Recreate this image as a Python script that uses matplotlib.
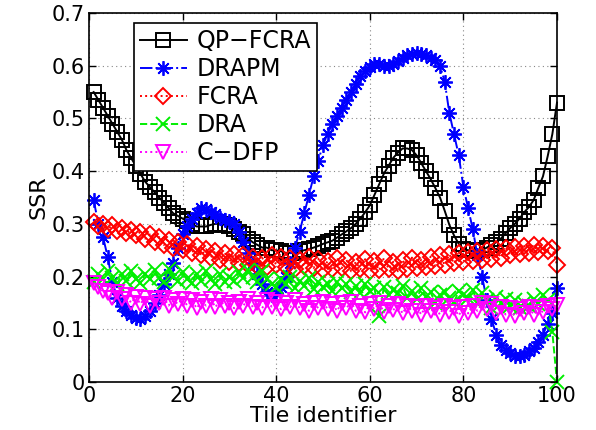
import matplotlib
matplotlib.use("Agg")
import matplotlib.pyplot as plt
import numpy as np

plt.rcParams['font.family'] = ['DejaVu Sans']

tile = list(range(1, 101))

qp_fcra = [0.550, 0.535, 0.520, 0.505, 0.490, 0.475, 0.460, 0.440, 0.425, 0.410,
           0.395, 0.380, 0.370, 0.360, 0.350, 0.340, 0.330, 0.320, 0.315, 0.310,
           0.305, 0.300, 0.295, 0.295, 0.295, 0.298, 0.300, 0.300, 0.298, 0.295,
           0.290, 0.285, 0.280, 0.272, 0.265, 0.260, 0.255, 0.255, 0.250, 0.250,
           0.248, 0.245, 0.245, 0.245, 0.248, 0.250, 0.252, 0.255, 0.258, 0.262,
           0.265, 0.268, 0.274, 0.280, 0.286, 0.292, 0.300, 0.310, 0.322, 0.335,
           0.355, 0.375, 0.395, 0.410, 0.425, 0.435, 0.443, 0.443, 0.440, 0.430,
           0.415, 0.400, 0.385, 0.368, 0.350, 0.325, 0.298, 0.278, 0.262, 0.252,
           0.250, 0.248, 0.248, 0.250, 0.255, 0.260, 0.265, 0.272, 0.282, 0.292,
           0.300, 0.310, 0.322, 0.332, 0.345, 0.368, 0.390, 0.428, 0.470, 0.530]

drapm = [0.345, 0.300, 0.275, 0.237, 0.190, 0.160, 0.145, 0.135, 0.128, 0.122,
         0.120, 0.125, 0.135, 0.150, 0.165, 0.185, 0.205, 0.225, 0.255, 0.280,
         0.295, 0.310, 0.320, 0.330, 0.328, 0.322, 0.318, 0.312, 0.308, 0.305,
         0.300, 0.285, 0.265, 0.245, 0.225, 0.205, 0.185, 0.170, 0.165, 0.168,
         0.180, 0.200, 0.225, 0.255, 0.285, 0.320, 0.355, 0.390, 0.420, 0.450,
         0.470, 0.490, 0.505, 0.520, 0.535, 0.550, 0.565, 0.580, 0.590, 0.598,
         0.603, 0.603, 0.600, 0.600, 0.603, 0.608, 0.615, 0.620, 0.623, 0.625,
         0.623, 0.620, 0.615, 0.610, 0.600, 0.570, 0.510, 0.470, 0.430, 0.370,
         0.330, 0.290, 0.240, 0.200, 0.155, 0.120, 0.090, 0.070, 0.060, 0.055,
         0.050, 0.050, 0.052, 0.058, 0.065, 0.075, 0.090, 0.110, 0.130, 0.178]

fcra = [0.303, 0.295, 0.300, 0.290, 0.297, 0.287, 0.293, 0.282, 0.289, 0.278,
        0.285, 0.272, 0.280, 0.266, 0.275, 0.260, 0.270, 0.255, 0.265, 0.250,
        0.262, 0.245, 0.258, 0.240, 0.252, 0.236, 0.248, 0.232, 0.245, 0.228,
        0.242, 0.226, 0.240, 0.222, 0.238, 0.220, 0.236, 0.218, 0.240, 0.222,
        0.238, 0.218, 0.236, 0.215, 0.232, 0.220, 0.238, 0.216, 0.234, 0.212,
        0.230, 0.214, 0.236, 0.216, 0.232, 0.210, 0.228, 0.214, 0.233, 0.211,
        0.230, 0.212, 0.235, 0.215, 0.228, 0.210, 0.232, 0.214, 0.236, 0.216,
        0.232, 0.218, 0.238, 0.220, 0.240, 0.222, 0.242, 0.225, 0.245, 0.228,
        0.246, 0.230, 0.248, 0.232, 0.250, 0.234, 0.252, 0.236, 0.255, 0.240,
        0.256, 0.242, 0.258, 0.245, 0.260, 0.246, 0.258, 0.248, 0.255, 0.222]

dra = [0.190, 0.205, 0.195, 0.210, 0.198, 0.185, 0.205, 0.192, 0.210, 0.196,
       0.188, 0.205, 0.195, 0.212, 0.198, 0.190, 0.215, 0.200, 0.192, 0.208,
       0.195, 0.188, 0.205, 0.192, 0.210, 0.195, 0.185, 0.205, 0.190, 0.200,
       0.192, 0.208, 0.198, 0.212, 0.200, 0.190, 0.210, 0.195, 0.185, 0.180,
       0.195, 0.185, 0.200, 0.178, 0.192, 0.182, 0.198, 0.176, 0.190, 0.180,
       0.185, 0.172, 0.190, 0.178, 0.186, 0.170, 0.182, 0.168, 0.185, 0.172,
       0.178, 0.125, 0.180, 0.165, 0.175, 0.168, 0.182, 0.160, 0.172, 0.158,
       0.178, 0.162, 0.170, 0.150, 0.165, 0.170, 0.160, 0.152, 0.172, 0.165,
       0.160, 0.175, 0.150, 0.168, 0.155, 0.140, 0.162, 0.150, 0.158, 0.145,
       0.155, 0.140, 0.150, 0.145, 0.158, 0.148, 0.165, 0.155, 0.095, 0.000]

c_dfp = [0.188, 0.180, 0.172, 0.168, 0.160, 0.170, 0.158, 0.165, 0.150, 0.162,
         0.148, 0.160, 0.145, 0.158, 0.150, 0.160, 0.145, 0.155, 0.148, 0.158,
         0.145, 0.155, 0.140, 0.152, 0.145, 0.158, 0.142, 0.155, 0.145, 0.150,
         0.140, 0.152, 0.145, 0.158, 0.142, 0.150, 0.140, 0.155, 0.143, 0.152,
         0.138, 0.150, 0.142, 0.155, 0.140, 0.148, 0.135, 0.150, 0.140, 0.152,
         0.138, 0.148, 0.135, 0.150, 0.140, 0.152, 0.135, 0.145, 0.132, 0.148,
         0.138, 0.150, 0.132, 0.145, 0.136, 0.148, 0.130, 0.145, 0.135, 0.142,
         0.128, 0.145, 0.135, 0.140, 0.128, 0.145, 0.133, 0.140, 0.126, 0.142,
         0.130, 0.145, 0.135, 0.150, 0.138, 0.148, 0.130, 0.142, 0.128, 0.140,
         0.125, 0.138, 0.130, 0.142, 0.128, 0.140, 0.132, 0.145, 0.138, 0.146]

xticks = [0, 20, 40, 60, 80, 100]
yticks = [0, 0.1, 0.2, 0.3, 0.4, 0.5, 0.6, 0.7]
ytick_labels = ['0', '0.1', '0.2', '0.3', '0.4', '0.5', '0.6', '0.7']

fig = plt.figure(figsize=(5.96, 4.30), dpi=100)
ax = fig.add_axes([89/596, 48/430, 468/596, 369/430])

ms = 9.5
lw = 1.4
common = dict(clip_on=False, linewidth=lw)
ax.plot(tile, qp_fcra, color='black', linestyle='-', marker='s', markersize=ms,
        markerfacecolor='none', markeredgewidth=1.4, label='QP\u2212FCRA', **common)
ax.plot(tile, drapm, color='blue', linestyle='-.', marker=(8, 2, 0), markersize=ms + 1,
        markeredgewidth=1.3, label='DRAPM', **common)
ax.plot(tile, fcra, color='red', linestyle=':', marker='D', markersize=ms - 1,
        markerfacecolor='none', markeredgewidth=1.4, label='FCRA', **common)
ax.plot(tile, dra, color='#00ee00', linestyle='--', marker='x', markersize=ms,
        markeredgewidth=1.4, label='DRA', **common)
ax.plot(tile, c_dfp, color='magenta', linestyle=':', marker='v', markersize=ms + 1,
        markerfacecolor='none', markeredgewidth=1.4, label='C\u2212DFP', **common)

ax.set_xlim(0, 100)
ax.set_ylim(0, 0.7)
ax.set_xticks(xticks)
ax.set_yticks(yticks)
ax.set_yticklabels(ytick_labels)
ax.tick_params(direction='in', top=True, right=True, labelsize=15, length=5, width=1,
               pad=3)
ax.grid(True, linestyle=(0, (1, 3)), color='#888888', linewidth=0.8)
for s in ax.spines.values():
    s.set_linewidth(1.2)
    s.set_zorder(3)

ax.set_xlabel('Tile identifier', fontsize=16, labelpad=0)
ax.set_ylabel('SSR', fontsize=16, labelpad=2)

leg = ax.legend(loc='upper left', bbox_to_anchor=(0.096, 0.973), borderaxespad=0,
                fontsize=17, labelspacing=0.17, handlelength=2.0, handletextpad=0.4,
                borderpad=0.25, fancybox=False, framealpha=1, edgecolor='black')
leg.get_frame().set_linewidth(1.2)
leg.set_zorder(5)

fig.savefig('out.png', dpi=100)
